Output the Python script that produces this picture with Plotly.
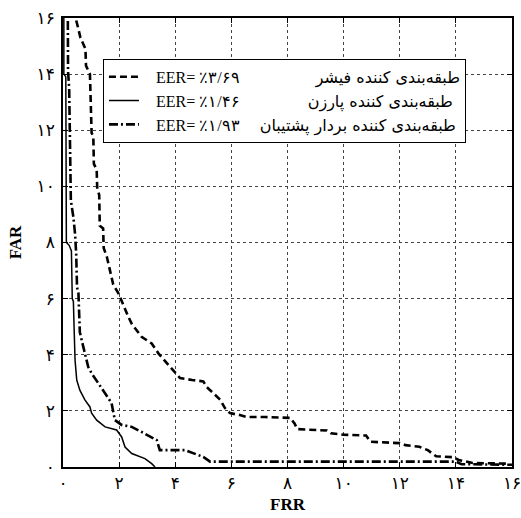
import plotly.graph_objects as go

# ---- data ----
fisher_x = [0.42, 0.45, 0.55, 0.62, 0.80, 0.82, 0.96, 0.98, 1.02, 1.08, 1.10, 1.20, 1.22, 1.29, 1.31,
            1.43, 1.45, 1.56, 1.67, 1.69, 1.79, 1.97, 2.05, 2.33, 2.45, 2.80, 3.16, 3.40, 3.70, 4.00,
            4.17, 4.60, 5.00, 5.12, 5.35, 5.60, 5.77, 5.95, 6.30, 6.55, 7.20, 8.10, 8.25, 8.35, 9.40,
            9.55, 10.0, 10.8, 10.95, 12.0, 12.2, 12.7, 13.0, 13.3, 13.9, 14.1, 14.6, 15.9]
fisher_y = [16.3, 16.0, 15.6, 15.3, 14.9, 14.3, 14.0, 13.0, 11.9, 11.8, 10.8, 10.6, 9.9, 9.7, 8.6,
            8.5, 7.8, 7.5, 7.0, 6.9, 6.5, 6.2, 6.0, 5.35, 5.1, 4.64, 4.4, 4.05, 3.7, 3.34,
            3.17, 3.1, 3.05, 2.85, 2.63, 2.4, 2.1, 1.92, 1.85, 1.78, 1.78, 1.75, 1.55, 1.35, 1.3,
            1.2, 1.15, 1.12, 0.9, 0.85, 0.78, 0.72, 0.6, 0.38, 0.35, 0.25, 0.14, 0.12]

parzen_x = [0.03, 0.03, 0.10, 0.12, 0.22, 0.30, 0.33, 0.37, 0.40, 0.43, 0.49, 0.60, 0.78, 0.96,
            1.02, 1.20, 1.50, 1.91, 2.09, 2.21, 2.45, 2.92, 3.16, 3.28]
parzen_y = [16.5, 14.0, 13.9, 8.0, 7.9, 7.7, 6.0, 5.9, 4.8, 3.8, 3.1, 2.74, 2.39, 2.14,
            1.92, 1.67, 1.43, 1.32, 1.07, 0.71, 0.48, 0.30, 0.12, 0.0]

svm_x = [0.17, 0.18, 0.22, 0.25, 0.28, 0.37, 0.43, 0.47, 0.50, 0.55, 0.60, 0.72, 0.84, 0.90, 1.02,
         1.25, 1.50, 1.73, 1.80, 1.85, 2.09, 2.45, 2.80, 3.16, 3.34, 3.45, 4.35, 5.00, 5.24, 8.0,
         14.0, 14.2, 16.0]
svm_y = [16.5, 14.1, 13.5, 11.9, 9.5, 8.9, 8.3, 7.6, 6.4, 6.2, 4.8, 4.3, 3.8, 3.56, 3.34,
         3.0, 2.63, 2.28, 1.92, 1.67, 1.5, 1.43, 1.25, 1.07, 0.96, 0.6, 0.6, 0.36, 0.19, 0.19,
         0.19, 0.10, 0.08]

series_eer = ["EER= ٪۳/۶۹", "EER= ٪۱/۴۶", "EER= ٪۱/۹۳"]
series_names = ["طبقه‌بندی کننده فیشر", "طبقه‌بندی کننده پارزن", "طبقه‌بندی کننده بردار پشتیبان"]
name_gaps = [19, 17, 5]  # non-breaking spaces between EER and name (right alignment)

tick_vals = [0, 2, 4, 6, 8, 10, 12, 14, 16]
tick_text = ["۰", "۲", "۴", "۶", "۸", "۱۰", "۱۲", "۱۴", "۱۶"]

SERIF = "Liberation Serif, Times New Roman, serif"
TICKFONT = "DejaVu Sans"


def legend_label(eer, name, gap):
    return ("\u00a0\u00a0\u00a0" + eer + "\u00a0" * gap +
            "<span style='font-family:DejaVu Sans;font-size:16px'>" + name + "</span>")


styles = [dict(color="black", width=2.6, dash="7px,4px"),
          dict(color="black", width=1.5),
          dict(color="black", width=2.6, dash="9px,3px,2px,3px")]
xs = [fisher_x, parzen_x, svm_x]
ys = [fisher_y, parzen_y, svm_y]

fig = go.Figure()
for i in range(3):
    fig.add_trace(go.Scatter(x=xs[i], y=ys[i], mode="lines", line=styles[i],
                             name=legend_label(series_eer[i], series_names[i], name_gaps[i])))

axis_common = dict(
    range=[0, 16], tickmode="array", tickvals=tick_vals, ticktext=tick_text,
    showgrid=True, gridcolor="#444444", gridwidth=1, griddash="dot",
    showline=True, linecolor="black", linewidth=1.6, mirror="ticks",
    ticks="inside", ticklen=5, tickcolor="black", tickwidth=1.2,
    zeroline=False, automargin=False, ticklabeloverflow="allow",
    tickfont=dict(family=TICKFONT, size=17, color="black"),
)

fig.update_layout(
    width=521, height=518,
    margin=dict(l=63, r=9, t=18, b=51),
    paper_bgcolor="white", plot_bgcolor="white",
    xaxis=dict(**axis_common,
               title=dict(text="<b>FRR</b>", font=dict(family=SERIF, size=17, color="black"), standoff=6)),
    yaxis=dict(**axis_common, ticklabelstandoff=3,
               title=dict(text="<b>FAR</b>", font=dict(family=SERIF, size=17, color="black"), standoff=11)),
    legend=dict(x=0.089, y=0.909, xanchor="left", yanchor="top",
                bgcolor="white", bordercolor="black", borderwidth=1,
                font=dict(family=SERIF, size=16, color="black"),
                tracegroupgap=0),
    showlegend=True,
)

fig.write_html("out.html")
